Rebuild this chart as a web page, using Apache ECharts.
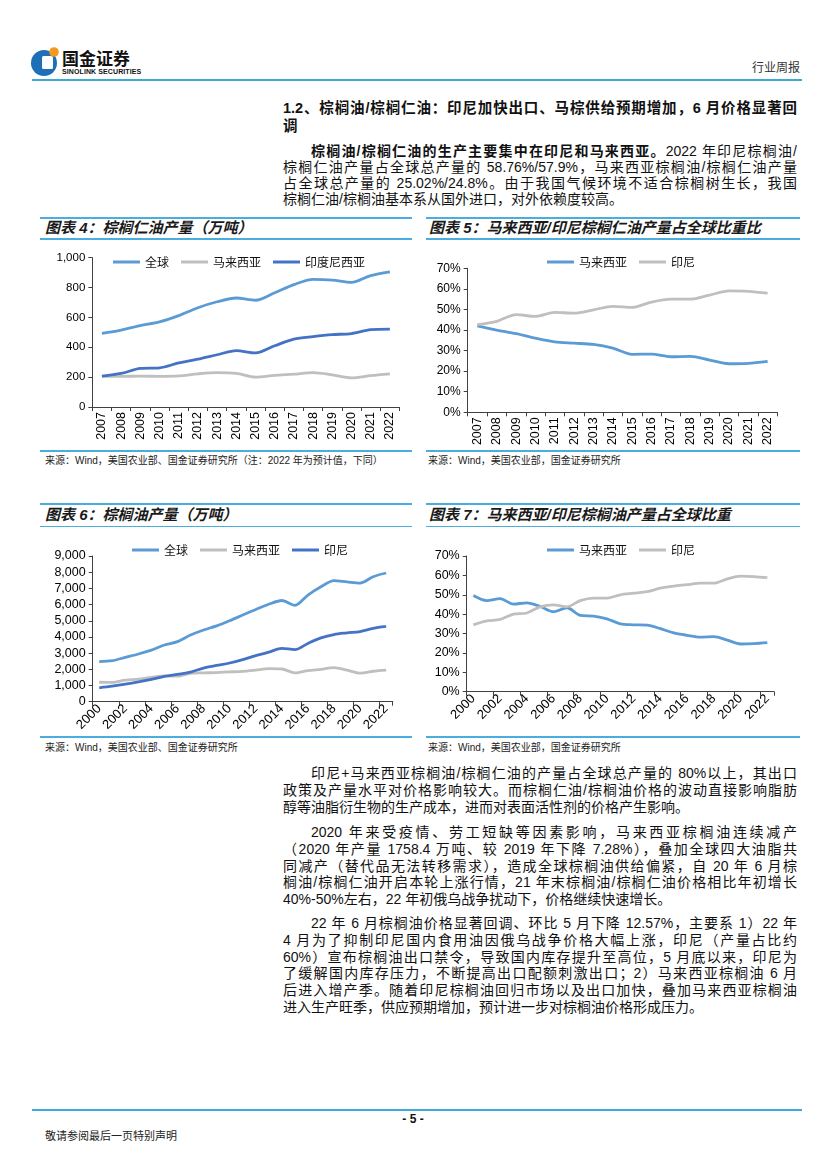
<!DOCTYPE html>
<html>
<head>
<meta charset="utf-8">
<script src="https://cdn.jsdelivr.net/npm/echarts@6/dist/echarts.min.js"></script>
<style>
html,body{margin:0;padding:0;background:#fff;}
#page{position:relative;width:827px;height:1170px;overflow:hidden;font-family:"Liberation Sans","Noto Sans CJK SC",sans-serif;color:#111;}
.abs{position:absolute;}
.hl{position:absolute;height:2px;background:#3ea8d8;}
.tl{position:absolute;height:1.5px;background:#4aade0;}
.line{position:absolute;left:283px;width:514px;height:18px;line-height:18px;font-size:14px;white-space:nowrap;}
.j{text-align:justify;text-align-last:justify;white-space:normal;overflow:hidden;}
.ctitle{position:absolute;font-size:15px;font-weight:bold;font-style:italic;color:#1a1a1a;line-height:20px;white-space:nowrap;}
.src{position:absolute;font-size:10px;color:#222;line-height:14px;white-space:nowrap;}
.chart{position:absolute;}
</style>
</head>
<body>
<div id="page">
  <!-- header -->
  <svg class="abs" style="left:28px;top:42px" width="36" height="40" viewBox="0 0 36 40">
    <circle cx="16" cy="21" r="13" fill="#1f6fb6"/>
    <rect x="14" y="14" width="11" height="13" rx="1.5" fill="#fff"/>
    <circle cx="26" cy="10" r="4.8" fill="#f29a1f"/>
  </svg>
  <div class="abs" style="left:62px;top:48px;font-size:17px;font-weight:bold;color:#111;line-height:20px;font-family:'Noto Sans CJK SC'">国金证券</div>
  <div class="abs" style="left:62px;top:67px;font-size:7px;font-weight:bold;color:#111;line-height:9px;letter-spacing:0.1px">SINOLINK SECURITIES</div>
  <div class="abs" style="left:752px;top:59px;font-size:12px;color:#333;line-height:16px;font-family:'Noto Sans CJK SC'">行业周报</div>
  <div class="hl" style="left:32px;top:79px;width:770px;"></div>

  <div id="textTop"></div>

  <!-- chart 4 frame -->
  <div class="tl" style="left:40px;top:217px;width:372px;"></div>
  <div class="ctitle" style="left:45px;top:218px;">图表 4：棕榈仁油产量（万吨）</div>
  <div class="tl" style="left:40px;top:238px;width:372px;"></div>
  <div id="c4" class="chart" style="left:40px;top:240px;width:375px;height:210px;"></div>
  <div class="tl" style="left:40px;top:450px;width:372px;"></div>
  <div class="src" style="left:45px;top:454px;">来源：Wind，美国农业部、国金证券研究所（注：2022 年为预计值，下同）</div>

  <!-- chart 5 frame -->
  <div class="tl" style="left:426px;top:217px;width:374px;"></div>
  <div class="ctitle" style="left:429px;top:218px;">图表 5：马来西亚/印尼棕榈仁油产量占全球比重比</div>
  <div class="tl" style="left:426px;top:238px;width:374px;"></div>
  <div id="c5" class="chart" style="left:420px;top:240px;width:380px;height:210px;"></div>
  <div class="tl" style="left:426px;top:450px;width:374px;"></div>
  <div class="src" style="left:428px;top:454px;">来源：Wind，美国农业部，国金证券研究所</div>

  <!-- chart 6 frame -->
  <div class="tl" style="left:40px;top:503px;width:372px;"></div>
  <div class="ctitle" style="left:45px;top:505px;">图表 6：棕榈油产量（万吨）</div>
  <div class="tl" style="left:40px;top:526px;width:372px;"></div>
  <div id="c6" class="chart" style="left:40px;top:527px;width:375px;height:209px;"></div>
  <div class="tl" style="left:40px;top:736px;width:372px;"></div>
  <div class="src" style="left:45px;top:741px;">来源：Wind，美国农业部、国金证券研究所</div>

  <!-- chart 7 frame -->
  <div class="tl" style="left:426px;top:503px;width:374px;"></div>
  <div class="ctitle" style="left:429px;top:505px;">图表 7：马来西亚/印尼棕榈油产量占全球比重</div>
  <div class="tl" style="left:426px;top:526px;width:374px;"></div>
  <div id="c7" class="chart" style="left:420px;top:527px;width:380px;height:209px;"></div>
  <div class="tl" style="left:426px;top:736px;width:374px;"></div>
  <div class="src" style="left:428px;top:741px;">来源：Wind，美国农业部，国金证券研究所</div>

  <div id="textBottom"></div>

  <!-- footer -->
  <div class="hl" style="left:32px;top:1109px;width:770px;"></div>
  <div class="abs" style="left:400px;top:1112px;width:26px;text-align:center;font-size:12px;font-weight:bold;line-height:14px;">- 5 -</div>
  <div class="abs" style="left:45px;top:1128px;font-size:11px;color:#222;line-height:14px;font-family:'Noto Sans CJK SC'">敬请参阅最后一页特别声明</div>
</div>

<script>
// ---------------- data ----------------
const years4 = ['2007','2008','2009','2010','2011','2012','2013','2014','2015','2016','2017','2018','2019','2020','2021','2022'];
const pkoGlobal    = [493, 515, 545, 570, 612, 665, 705, 730, 715, 765, 820, 855, 850, 835, 880, 905];
const pkoMalaysia  = [205, 205, 207, 205, 208, 222, 230, 225, 200, 212, 220, 230, 215, 195, 210, 222];
const pkoIndonesia = [207, 225, 258, 262, 295, 320, 350, 378, 362, 410, 455, 472, 485, 492, 518, 522];

const pkoShareMalaysia  = [42.0, 40.0, 38.2, 36.0, 34.2, 33.6, 33.0, 31.2, 28.2, 28.3, 27.0, 27.2, 25.4, 23.6, 23.8, 24.8];
const pkoShareIndonesia = [42.6, 44.2, 47.5, 46.6, 48.6, 48.2, 49.8, 51.5, 51.0, 53.6, 55.0, 55.0, 57.0, 59.0, 58.8, 57.9];

const years6 = ['2000','2001','2002','2003','2004','2005','2006','2007','2008','2009','2010','2011','2012','2013','2014','2015','2016','2017','2018','2019','2020','2021','2022'];
const poGlobal    = [2470, 2530, 2740, 2945, 3190, 3500, 3710, 4120, 4430, 4680, 5000, 5350, 5700, 6020, 6250, 5950, 6590, 7100, 7480, 7400, 7330, 7720, 7950];
const poMalaysia  = [1200, 1190, 1330, 1390, 1500, 1590, 1580, 1750, 1780, 1800, 1840, 1870, 1950, 2040, 2020, 1780, 1920, 2000, 2100, 1950, 1760, 1880, 1950];
const poIndonesia = [860, 960, 1080, 1220, 1380, 1560, 1690, 1830, 2080, 2240, 2390, 2600, 2850, 3060, 3300, 3220, 3600, 3940, 4150, 4250, 4330, 4530, 4650];

const poShareMalaysia  = [49.6, 47.0, 48.0, 45.2, 45.8, 44.0, 41.3, 43.3, 39.4, 39.0, 37.6, 35.0, 34.5, 34.3, 32.5, 30.3, 29.1, 28.2, 28.4, 26.6, 24.6, 24.8, 25.3];
const poShareIndonesia = [34.5, 36.5, 37.3, 40.0, 40.6, 43.8, 44.8, 43.8, 47.0, 48.3, 48.3, 50.0, 50.8, 51.6, 53.4, 54.5, 55.2, 56.0, 56.0, 58.2, 59.6, 59.4, 58.8];

const yTicks4 = {min: 0, max: 1000, interval: 200};
const yTicks5 = {min: 0, max: 70, interval: 10};
const yTicks6 = {min: 0, max: 9000, interval: 1000};
const yTicks7 = {min: 0, max: 70, interval: 10};

// ---------------- text ----------------
function addLines(containerId, lines) {
  const c = document.getElementById(containerId);
  lines.forEach(l => {
    const d = document.createElement('div');
    d.className = 'line' + (l.j ? ' j' : '');
    d.style.top = (l.y - 9) + 'px';
    if (l.indent) { d.style.left = (283 + l.indent) + 'px'; d.style.width = (514 - l.indent) + 'px'; }
    if (l.bold) d.style.fontWeight = 'bold';
    if (l.size) d.style.fontSize = l.size + 'px';
    d.innerHTML = l.html;
    c.appendChild(d);
  });
}
addLines('textTop', [
  {y: 108, html: '1.2、棕榈油/棕榈仁油：印尼加快出口、马棕供给预期增加，6 月价格显著回', j: true, bold: true, size: 14.5},
  {y: 126, html: '调', bold: true, size: 14.5},
  {y: 151, indent: 28, j: true, html: '<b>棕榈油/棕榈仁油的生产主要集中在印尼和马来西亚。</b>2022 年印尼棕榈油/'},
  {y: 167, j: true, html: '棕榈仁油产量占全球总产量的 58.76%/57.9%，马来西亚棕榈油/棕榈仁油产量'},
  {y: 183, j: true, html: '占全球总产量的 25.02%/24.8%。由于我国气候环境不适合棕榈树生长，我国'},
  {y: 199, html: '棕榈仁油/棕榈油基本系从国外进口，对外依赖度较高。'}
]);
addLines('textBottom', [
  {y: 773, indent: 28, j: true, html: '印尼+马来西亚棕榈油/棕榈仁油的产量占全球总产量的 80%以上，其出口'},
  {y: 790, j: true, html: '政策及产量水平对价格影响较大。而棕榈仁油/棕榈油价格的波动直接影响脂肪'},
  {y: 807, html: '醇等油脂衍生物的生产成本，进而对表面活性剂的价格产生影响。'},
  {y: 832, indent: 28, j: true, html: '2020 年来受疫情、劳工短缺等因素影响，马来西亚棕榈油连续减产'},
  {y: 849, j: true, html: '（2020 年产量 1758.4 万吨、较 2019 年下降 7.28%），叠加全球四大油脂共'},
  {y: 866, j: true, html: '同减产（替代品无法转移需求），造成全球棕榈油供给偏紧，自 20 年 6 月棕'},
  {y: 882, j: true, html: '榈油/棕榈仁油开启本轮上涨行情，21 年末棕榈油/棕榈仁油价格相比年初增长'},
  {y: 899, html: '40%-50%左右，22 年初俄乌战争扰动下，价格继续快速增长。'},
  {y: 923, indent: 28, j: true, html: '22 年 6 月棕榈油价格显著回调、环比 5 月下降 12.57%，主要系 1）22 年'},
  {y: 940, j: true, html: '4 月为了抑制印尼国内食用油因俄乌战争价格大幅上涨，印尼（产量占比约'},
  {y: 957, j: true, html: '60%）宣布棕榈油出口禁令，导致国内库存提升至高位，5 月底以来，印尼为'},
  {y: 973, j: true, html: '了缓解国内库存压力，不断提高出口配额刺激出口；2）马来西亚棕榈油 6 月'},
  {y: 990, j: true, html: '后进入增产季。随着印尼棕榈油回归市场以及出口加快，叠加马来西亚棕榈油'},
  {y: 1007, html: '进入生产旺季，供应预期增加，预计进一步对棕榈油价格形成压力。'}
]);

// ---------------- charts ----------------
const C_LIGHT = '#5b9bd5', C_GRAY = '#bfbfbf', C_DARK = '#4472c4';
const AX = '#404040';

function makeChart(id, cfg) {
  const chart = echarts.init(document.getElementById(id), null, {renderer: 'canvas'});
  const option = {
    animation: false,
    backgroundColor: '#fff',
    legend: {
      left: cfg.legendLeft, top: cfg.legendTop, itemGap: cfg.legendGap || 12,
      itemWidth: 27, itemHeight: 3, icon: 'rect',
      textStyle: {fontFamily: 'Noto Sans CJK SC', fontSize: 12, color: '#111', padding: [0,0,0,0]},
      data: cfg.series.map(s => s.name)
    },
    grid: Object.assign({containLabel: false, outerBoundsMode: 'none'}, cfg.grid),
    xAxis: {
      type: 'category', data: cfg.cats, boundaryGap: true,
      axisLine: {lineStyle: {color: AX, width: 1}},
      axisTick: {show: true, length: 4, interval: cfg.tickInterval, lineStyle: {color: AX}},
      axisLabel: {interval: cfg.labelInterval, rotate: cfg.rotate, margin: cfg.labelMargin,
        fontFamily: 'Liberation Sans', fontSize: cfg.xSize, color: '#000'},
      splitLine: {show: false}
    },
    yAxis: {
      type: 'value', min: cfg.y.min, max: cfg.y.max, interval: cfg.y.interval,
      axisLine: {show: true, lineStyle: {color: AX, width: 1}},
      axisTick: {show: true, length: 4, lineStyle: {color: AX}},
      axisLabel: {margin: 7, fontFamily: 'Liberation Sans', fontSize: cfg.ySize, color: '#000', formatter: cfg.yFmt},
      splitLine: {show: false}
    },
    series: cfg.series.map(s => ({
      name: s.name, type: 'line', data: s.data, smooth: 0.3, symbol: 'none',
      lineStyle: {color: s.color, width: 2.8}, itemStyle: {color: s.color}
    }))
  };
  chart.setOption(option);
}

const fmtNum = v => Number(v).toLocaleString('en-US');
const fmtPct = v => v + '%';

makeChart('c4', {
  cats: years4, y: yTicks4, yFmt: fmtNum, rotate: 90, labelInterval: 0, tickInterval: 0, labelMargin: 5,
  xSize: 12.5, ySize: 11.5,
  grid: {left: 52.3, top: 17.7, width: 307.2, height: 149.3},
  legendLeft: 68, legendTop: 11,
  series: [
    {name: '全球', data: pkoGlobal, color: C_LIGHT},
    {name: '马来西亚', data: pkoMalaysia, color: C_GRAY},
    {name: '印度尼西亚', data: pkoIndonesia, color: C_DARK}
  ]
});
makeChart('c5', {
  cats: years4, y: yTicks5, yFmt: fmtPct, rotate: 90, labelInterval: 0, tickInterval: 0, labelMargin: 5,
  xSize: 12.5, ySize: 12,
  grid: {left: 47.7, top: 28.3, width: 309.6, height: 144},
  legendLeft: 122, legendTop: 11,
  series: [
    {name: '马来西亚', data: pkoShareMalaysia, color: C_LIGHT},
    {name: '印尼', data: pkoShareIndonesia, color: C_GRAY}
  ]
});
makeChart('c6', {
  cats: years6, y: yTicks6, yFmt: fmtNum, rotate: 45, labelInterval: 1, tickInterval: 1, labelMargin: 5,
  xSize: 13, ySize: 12.5,
  grid: {left: 52.7, top: 29, width: 300, height: 145.7},
  legendLeft: 87, legendTop: 12,
  series: [
    {name: '全球', data: poGlobal, color: C_LIGHT},
    {name: '马来西亚', data: poMalaysia, color: C_GRAY},
    {name: '印尼', data: poIndonesia, color: C_DARK}
  ]
});
makeChart('c7', {
  cats: years6, y: yTicks7, yFmt: fmtPct, rotate: 45, labelInterval: 1, tickInterval: 1, labelMargin: 5,
  xSize: 13, ySize: 12.5,
  grid: {left: 46.7, top: 29, width: 307.3, height: 135.7},
  legendLeft: 122, legendTop: 12,
  series: [
    {name: '马来西亚', data: poShareMalaysia, color: C_LIGHT},
    {name: '印尼', data: poShareIndonesia, color: C_GRAY}
  ]
});
</script>
</body>
</html>
